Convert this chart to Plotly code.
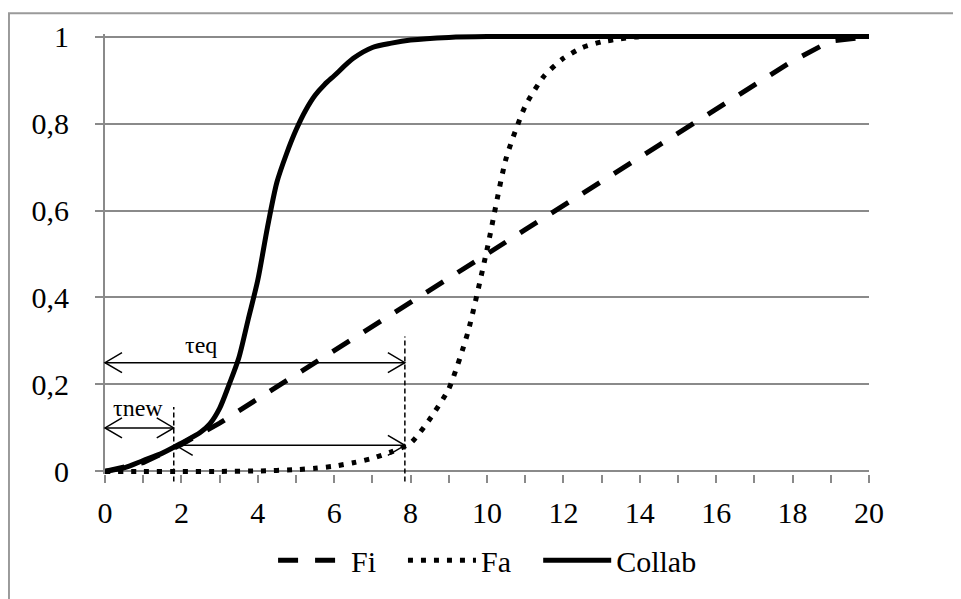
import plotly.graph_objects as go

# ---------------- data ----------------
x_fi = [0, 1, 2, 3, 4, 5, 6, 7, 8, 9, 10, 11, 12, 13, 14, 15, 16, 17, 18, 19, 20]
y_fi = [0.0, 0.02, 0.062, 0.111, 0.167, 0.222, 0.278, 0.333, 0.389, 0.444, 0.5,
        0.556, 0.611, 0.667, 0.722, 0.778, 0.833, 0.889, 0.944, 0.99, 1.0]

x_fa = [0, 1, 2, 3, 4, 5, 5.5, 6, 6.5, 7, 7.5, 8, 8.5, 9, 9.5, 10, 10.5, 11, 11.5,
        12, 12.5, 13, 13.5, 14, 15, 16, 17, 18, 19, 20]
y_fa = [0.0, 0.0, 0.0, 0.0, 0.001, 0.004, 0.007, 0.012, 0.02, 0.03, 0.045, 0.065,
        0.12, 0.19, 0.32, 0.51, 0.72, 0.84, 0.91, 0.95, 0.975, 0.988, 0.995, 1.0,
        1.0, 1.0, 1.0, 1.0, 1.0, 1.0]

x_co = [0, 0.5, 1, 1.5, 2, 2.5, 2.75, 3, 3.25, 3.5, 3.75, 4, 4.25, 4.5, 4.75, 5,
        5.25, 5.5, 5.75, 6, 6.5, 7, 7.5, 8, 9, 10, 12, 14, 16, 18, 20]
y_co = [0.0, 0.008, 0.025, 0.042, 0.065, 0.09, 0.11, 0.145, 0.2, 0.26, 0.35, 0.44,
        0.56, 0.665, 0.73, 0.785, 0.83, 0.865, 0.89, 0.91, 0.95, 0.975, 0.985, 0.992,
        0.998, 1.0, 1.0, 1.0, 1.0, 1.0, 1.0]

series_names = ["Fi", "Fa", "Collab"]
x_ticks = [0, 2, 4, 6, 8, 10, 12, 14, 16, 18, 20]
y_ticks = [0, 0.2, 0.4, 0.6, 0.8, 1]
y_ticktext = ["0", "0,2", "0,4", "0,6", "0,8", "1"]

# annotation values
tau_new = 1.8
tau_eq = 7.85
y_eq_arrow = 0.25
y_new_arrow = 0.10
y_gap_arrow = 0.06
y_eq_vtop = 0.31
y_new_vtop = 0.148
y_vbottom = -0.023

XMIN, XMAX = 0, 20
YMIN, YMAX = -0.006, 1.006

FONT = "Liberation Serif"
GRAY = "#8a8a8a"


def px(v):
    return (v - XMIN) / (XMAX - XMIN)


def py(v):
    return (v - YMIN) / (YMAX - YMIN)


fig = go.Figure()
fig.add_trace(go.Scatter(x=x_fi, y=y_fi, mode="lines", name=series_names[0], legend="legend",
                         line=dict(color="black", width=5, dash="20px,17px")))
fig.add_trace(go.Scatter(x=x_fa, y=y_fa, mode="lines", name=series_names[1], legend="legend2",
                         line=dict(color="black", width=5, dash="5px,8px", shape="spline",
                                   smoothing=0.6)))
fig.add_trace(go.Scatter(x=x_co, y=y_co, mode="lines", name=series_names[2], legend="legend3",
                         line=dict(color="black", width=5, shape="spline", smoothing=0.8)))

shapes = []
# outer chart border (only left & top visible)
shapes.append(dict(type="rect", xref="paper", yref="paper", x0=-0.1257, x1=1.3,
                   y0=-0.5, y1=1.047, line=dict(color="#9a9a9a", width=2),
                   fillcolor="rgba(0,0,0,0)", layer="above"))


def hline(x0, x1, y):
    shapes.append(dict(type="line", xref="paper", yref="paper", x0=px(x0), x1=px(x1),
                       y0=py(y), y1=py(y), line=dict(color="black", width=1.5)))


def vline(x, y0, y1):
    shapes.append(dict(type="line", xref="paper", yref="paper", x0=px(x), x1=px(x),
                       y0=py(y0), y1=py(y1),
                       line=dict(color="black", width=1.5, dash="5px,3px")))


def head(x, y, direction):
    d = 1 if direction == "left" else -1
    path = f"M {17*d},10 L 0,0 L {17*d},-10"
    shapes.append(dict(type="path", xref="paper", yref="paper", xsizemode="pixel",
                       ysizemode="pixel", xanchor=px(x), yanchor=py(y), path=path,
                       line=dict(color="black", width=1.5)))


hline(0, tau_eq, y_eq_arrow)
head(0, y_eq_arrow, "left")
head(tau_eq, y_eq_arrow, "right")
hline(0, tau_new, y_new_arrow)
head(0, y_new_arrow, "left")
head(tau_new, y_new_arrow, "right")
hline(tau_new + 0.05, tau_eq, y_gap_arrow)
head(tau_new + 0.05, y_gap_arrow, "left")
head(tau_eq, y_gap_arrow, "right")
vline(tau_eq, y_vbottom, y_eq_vtop)
vline(tau_new, y_vbottom, y_new_vtop)

annotations = [
    dict(x=2.5, y=0.29, xref="x", yref="y", text="τeq", showarrow=False,
         font=dict(family=FONT, size=24, color="black")),
    dict(x=0.86, y=0.146, xref="x", yref="y", text="τnew", showarrow=False,
         font=dict(family=FONT, size=24, color="black")),
]


def leg(xpos):
    return dict(orientation="h", x=xpos, xanchor="left", y=-0.196, yanchor="middle",
                font=dict(family=FONT, size=30, color="black"), itemwidth=68,
                bgcolor="rgba(0,0,0,0)")


fig.update_layout(
    width=961, height=599,
    margin=dict(l=97, r=100, t=22, b=133),
    paper_bgcolor="white", plot_bgcolor="white",
    font=dict(family=FONT, size=30, color="black"),
    showlegend=True,
    legend=leg(0.22), legend2=leg(0.39), legend3=leg(0.567),
    shapes=shapes,
    annotations=annotations,
)
fig.update_xaxes(range=[XMIN, XMAX], tickvals=x_ticks, ticks="outside", ticklen=8,
                 tickwidth=2, tickcolor=GRAY, showgrid=False, zeroline=False,
                 showline=False, ticklabelstandoff=4,
                 minor=dict(dtick=1, tick0=0, ticks="outside", ticklen=8, tickwidth=2,
                            tickcolor=GRAY, showgrid=False),
                 tickfont=dict(family=FONT, size=30, color="black"))
fig.update_yaxes(range=[YMIN, YMAX], tickvals=y_ticks, ticktext=y_ticktext,
                 ticks="outside", ticklen=8, tickwidth=2, tickcolor=GRAY,
                 showgrid=True, gridcolor=GRAY, gridwidth=2, zeroline=False,
                 showline=True, linecolor=GRAY, linewidth=2, ticklabelstandoff=20,
                 tickfont=dict(family=FONT, size=30, color="black"))

fig.write_html("out.html")
